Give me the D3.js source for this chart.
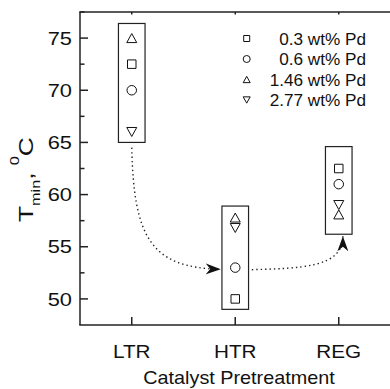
<!DOCTYPE html>
<html>
<head>
<meta charset="utf-8">
<script src="https://cdn.jsdelivr.net/npm/d3@7.9.0/dist/d3.min.js"></script>
<style>
  body { margin: 0; background: #fff; }
  svg { font-family: "Liberation Sans", Arial, sans-serif; }
</style>
</head>
<body>
<svg id="chart" width="390" height="389"></svg>
<script>
// categories on the x axis
const categories = ['LTR', 'HTR', 'REG'];

// T_min values (degC) per Pd loading, one value per category
const pd03 = [72.5, 50.0, 62.5];
const pd06 = [70.0, 53.0, 61.0];
const pd146 = [75.0, 57.8, 58.1];
const pd277 = [66.0, 56.8, 59.0];

const seriesNames = ['0.3 wt% Pd', '0.6 wt% Pd', '1.46 wt% Pd', '2.77 wt% Pd'];
const seriesShapes = ['square', 'circle', 'up', 'down'];

// grouping boxes around each category [low, high]
const boxLow = [65.0, 49.0, 56.2];
const boxHigh = [76.4, 58.9, 64.6];

// y ticks
const yMajor = [50, 55, 60, 65, 70, 75];
const yMinor = [52.5, 57.5, 62.5, 67.5, 72.5, 77.5];

// arrows between groups, cubic curves in data units [category index, value]
const arrow1 = [[1.0, 64.5], [1.02, 56.1], [1.17, 52.95], [1.86, 52.85]];
const arrow2 = [[2.16, 52.8], [2.62, 52.95], [3.04, 52.95], [3.04, 56.0]];

const svg = d3.select('#chart');
const plotLeft = 80, plotRight = 390.5, plotTop = 12, plotBottom = 325;

const x = d3.scaleLinear().domain([0.5, 3.5]).range([plotLeft, plotRight]);
const y = d3.scaleLinear().domain([47.5, 77.5]).range([plotBottom, plotTop]);

const axisColor = '#222';
const textColor = '#111';

// marker path by shape, centred on 0,0
function shapePath(shape, s) {
  const h = s / 2;
  if (shape === 'square') return `M${-h},${-h}H${h}V${h}H${-h}Z`;
  if (shape === 'circle') return `M${h},0A${h},${h} 0 1,1 ${-h},0A${h},${h} 0 1,1 ${h},0Z`;
  const th = s * 0.9 / 2;
  if (shape === 'up') return `M0,${-th}L${h},${th}L${-h},${th}Z`;
  return `M0,${th}L${h},${-th}L${-h},${-th}Z`;
}

// boxes
svg.append('g').selectAll('rect')
  .data(categories)
  .enter()
  .append('rect')
  .attr('x', (d, i) => x(i + 1) - 13.3)
  .attr('width', 26.6)
  .attr('y', (d, i) => y(boxHigh[i]))
  .attr('height', (d, i) => y(boxLow[i]) - y(boxHigh[i]))
  .attr('fill', 'none')
  .attr('stroke', '#222')
  .attr('stroke-width', 1.2);

// data points
const allSeries = [pd03, pd06, pd146, pd277];
const markerSize = { square: 8.5, circle: 9.5, up: 10, down: 10 };
allSeries.forEach((vals, si) => {
  const shape = seriesShapes[si];
  svg.append('g').selectAll('path')
    .data(vals)
    .enter()
    .append('path')
    .attr('transform', (d, i) => `translate(${x(i + 1)},${y(d)})`)
    .attr('d', shapePath(shape, markerSize[shape]))
    .attr('fill', 'none')
    .attr('stroke', textColor)
    .attr('stroke-width', 1);
});

// arrowhead
svg.append('defs').append('marker')
  .attr('id', 'head')
  .attr('markerUnits', 'userSpaceOnUse')
  .attr('viewBox', '-15 -6 16 12')
  .attr('refX', 0).attr('refY', 0)
  .attr('markerWidth', 16).attr('markerHeight', 12)
  .attr('orient', 'auto')
  .append('path')
  .attr('d', 'M0,0L-15,-5.5L-10.5,0L-15,5.5Z')
  .attr('fill', textColor);

function curve(pts) {
  const p = pts.map(d => [x(d[0]), y(d[1])]);
  return `M${p[0]}C${p[1]} ${p[2]} ${p[3]}`;
}
[arrow1, arrow2].forEach(a => {
  svg.append('path')
    .attr('d', curve(a))
    .attr('fill', 'none')
    .attr('stroke', '#222')
    .attr('stroke-width', 1.4)
    .attr('stroke-dasharray', '1.4,3')
    .attr('marker-end', 'url(#head)');
});

// axes
const axes = svg.append('g').attr('stroke', axisColor).attr('stroke-width', 1.5);
axes.append('line').attr('x1', plotLeft).attr('x2', plotLeft).attr('y1', plotTop).attr('y2', plotBottom);
axes.append('line').attr('x1', plotLeft - 0.75).attr('x2', plotRight).attr('y1', plotBottom).attr('y2', plotBottom);
axes.append('line').attr('x1', plotLeft - 0.75).attr('x2', plotRight).attr('y1', plotTop).attr('y2', plotTop);

axes.selectAll('.ymaj').data(yMajor).enter().append('line')
  .attr('x1', plotLeft).attr('x2', plotLeft + 8).attr('y1', d => y(d)).attr('y2', d => y(d));
axes.selectAll('.ymin').data(yMinor).enter().append('line')
  .attr('x1', plotLeft).attr('x2', plotLeft + 4.5).attr('y1', d => y(d)).attr('y2', d => y(d));
axes.selectAll('.xt').data(categories).enter().append('line')
  .attr('x1', (d, i) => x(i + 1)).attr('x2', (d, i) => x(i + 1))
  .attr('y1', plotBottom).attr('y2', plotBottom - 8);
axes.selectAll('.xtt').data(categories).enter().append('line')
  .attr('x1', (d, i) => x(i + 1)).attr('x2', (d, i) => x(i + 1))
  .attr('y1', plotTop).attr('y2', plotTop + 2.5);

// tick labels (the original font is a little wider than Arial)
svg.append('g').selectAll('text').data(yMajor).enter().append('text')
  .attr('transform', d => `translate(${plotLeft - 8},${y(d)}) scale(1.18,1)`)
  .attr('dy', '0.36em')
  .attr('text-anchor', 'end').attr('font-size', 18.5).attr('fill', textColor)
  .text(d => d);
svg.append('g').selectAll('text').data(categories).enter().append('text')
  .attr('transform', (d, i) => `translate(${x(i + 1)},358) scale(1.12,1)`)
  .attr('text-anchor', 'middle').attr('font-size', 18.5).attr('fill', textColor)
  .text(d => d);

// axis titles
svg.append('text')
  .attr('transform', 'translate(239,384) scale(1.1,1)')
  .attr('text-anchor', 'middle').attr('font-size', 18).attr('fill', textColor)
  .text('Catalyst Pretreatment');

const yt = svg.append('text')
  .attr('transform', 'translate(33,222) rotate(-90) scale(1.25,1)')
  .attr('text-anchor', 'start').attr('font-size', 21).attr('fill', textColor);
yt.append('tspan').text('T');
yt.append('tspan').attr('font-size', 13).attr('dy', 6.5).text('min');
yt.append('tspan').attr('dy', -6.5).text(', ');
yt.append('tspan').attr('font-size', 13).attr('dy', -14).text('0');
yt.append('tspan').attr('dy', 14).text('C');

// legend
const leg = svg.append('g');
seriesNames.forEach((name, i) => {
  const ly = 38.5 + i * 20.5;
  leg.append('path')
    .attr('transform', `translate(246.7,${ly})`)
    .attr('d', shapePath(seriesShapes[i], seriesShapes[i] === 'square' ? 6 : 7))
    .attr('fill', 'none').attr('stroke', textColor).attr('stroke-width', 1);
  leg.append('text')
    .attr('transform', `translate(366,${ly + 6.3}) scale(1.04,1)`)
    .attr('text-anchor', 'end').attr('font-size', 16.5).attr('fill', textColor)
    .text(name);
});
</script>
</body>
</html>
